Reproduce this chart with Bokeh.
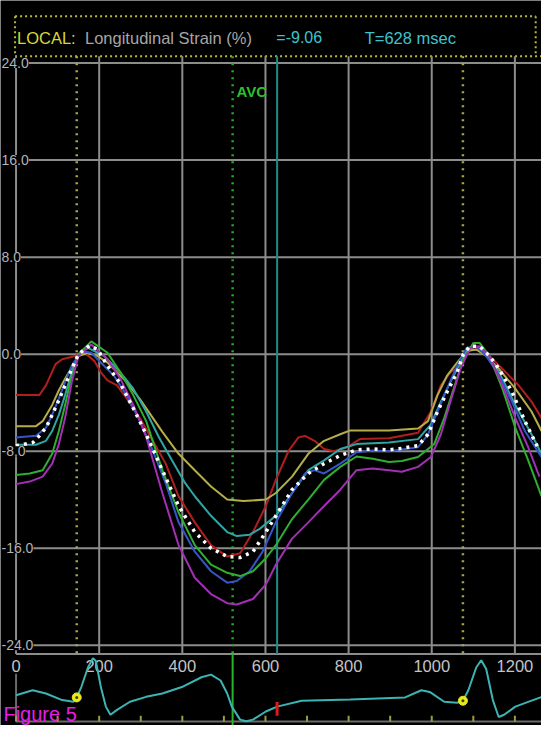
from bokeh.plotting import figure
from bokeh.models import Range1d, Text, Label
from bokeh.core.properties import value
from bokeh.embed import file_html
from bokeh.resources import INLINE

# ---------------- data ----------------
time_ticks = [0, 200, 400, 600, 800, 1000, 1200]
time_labels = ["0", "200", "400", "600", "800", "1000", "1200"]
strain_ticks = [24, 16, 8, 0, -8, -16, -24]
strain_labels = ["24.0", "16.0", "8.0", "0.0", "-8.0", "-16.0", "-24.0"]
ecg_minor_ticks = [0, 100, 200, 300, 400, 500, 600, 700, 800, 900, 1000, 1100, 1200]

ed_times = [146, 1075]          # yellow dotted markers (end-diastole)
avc_time = 521                  # aortic valve closure
cursor_time = 628               # cursor T
local_value = -9.06             # LOCAL longitudinal strain at the cursor

red_t = [0, 56, 72, 95, 111, 142, 165, 188, 204, 220, 243, 266, 298, 329, 360, 391, 430, 469, 508, 539,
         570, 601, 625, 656, 679, 695, 718, 741, 765, 796, 827, 897, 967, 998, 1022, 1045, 1069, 1092,
         1115, 1139, 1178, 1209, 1240, 1264]
red_s = [-3.37, -3.37, -2.57, -0.82, -0.42, -0.15, 0.12, -0.55, -1.49, -2.16, -2.57, -3.64, -5.26, -7.14,
         -9.02, -11.71, -13.86, -15.74, -16.68, -16.41, -14.66, -12.51, -10.36, -7.94, -6.87, -6.73, -7.14,
         -7.81, -8.0, -7.67, -7.0, -6.92, -6.47, -4.72, -2.57, -1.49, -0.95, 0.39, 0.39, -0.15, -1.49, -2.57,
         -3.91, -5.26]

yellow_t = [0, 48, 64, 87, 103, 118, 134, 150, 173, 196, 220, 266, 298, 336, 352, 391, 430, 469, 508, 547,
            601, 625, 664, 703, 741, 780, 804, 897, 967, 991, 1014, 1037, 1061, 1084, 1107, 1131, 1162,
            1201, 1240, 1264]
yellow_s = [-5.93, -5.93, -5.52, -4.18, -2.97, -2.03, -1.09, -0.15, 0.12, -0.15, -0.69, -2.3, -3.7, -5.6,
            -6.4, -8.21, -9.56, -10.9, -11.98, -12.11, -11.98, -11.44, -10.09, -8.21, -7.14, -6.6, -6.28,
            -6.28, -6.12, -5.52, -3.37, -1.76, -0.69, 0.26, 0.39, -0.15, -1.22, -2.84, -4.72, -6.33]

teal_t = [0, 48, 72, 87, 103, 118, 134, 150, 173, 212, 251, 282, 313, 344, 375, 407, 430, 469, 508, 531,
          562, 586, 625, 664, 703, 741, 780, 819, 897, 967, 998, 1022, 1045, 1069, 1084, 1107, 1131, 1162,
          1201, 1240, 1264]
teal_s = [-7.46, -7.46, -7.14, -6.33, -5.0, -3.37, -1.49, -0.01, 0.52, -0.15, -1.49, -2.84, -4.72, -6.87,
          -8.75, -10.63, -11.71, -13.32, -14.66, -14.99, -14.88, -14.4, -13.32, -11.44, -9.56, -8.75, -7.81,
          -7.41, -7.27, -7.0, -5.79, -3.91, -2.3, -0.69, 0.39, 0.66, -0.01, -1.49, -4.18, -6.6, -8.21]

blue_t = [0, 48, 72, 87, 103, 118, 134, 157, 181, 204, 235, 266, 298, 329, 360, 391, 430, 469, 508, 531,
          562, 593, 625, 664, 695, 718, 741, 780, 819, 858, 897, 967, 991, 1014, 1037, 1061, 1084, 1107,
          1131, 1162, 1193, 1224, 1264]
blue_s = [-6.87, -6.73, -6.06, -4.99, -3.64, -2.3, -0.95, 0.26, 0.12, -0.69, -1.76, -3.37, -5.52, -7.94,
          -10.63, -13.86, -16.28, -17.89, -18.83, -18.7, -17.89, -16.28, -13.86, -11.44, -9.83, -9.56, -9.83,
          -9.02, -8.08, -7.94, -8.0, -7.67, -6.6, -4.72, -2.84, -0.95, 0.52, 0.66, -0.15, -1.76, -3.91,
          -6.33, -8.48]

green_t = [0, 33, 64, 87, 103, 118, 134, 150, 181, 220, 251, 282, 313, 352, 391, 430, 469, 508, 539, 570,
           601, 625, 664, 703, 741, 780, 819, 858, 897, 928, 967, 1006, 1030, 1053, 1076, 1100, 1115, 1139,
           1170, 1201, 1232, 1264]
green_s = [-9.96, -9.83, -9.56, -8.21, -6.33, -4.18, -1.76, -0.01, 1.06, 0.12, -1.49, -3.37, -5.52, -9.56,
           -13.05, -15.74, -17.35, -18.02, -18.29, -17.89, -16.82, -15.74, -13.59, -11.98, -10.36, -9.29,
           -8.43, -8.62, -8.89, -8.8, -8.48, -7.41, -5.26, -2.84, -0.42, 0.93, 0.93, -0.15, -2.84, -6.06,
           -8.75, -11.71]

purple_t = [0, 33, 64, 87, 103, 118, 134, 150, 181, 220, 251, 282, 313, 352, 391, 430, 469, 508, 531, 570,
            601, 625, 664, 703, 741, 780, 819, 858, 897, 928, 967, 998, 1022, 1045, 1069, 1092, 1115, 1139,
            1170, 1201, 1232, 1259]
purple_s = [-10.71, -10.5, -10.09, -9.02, -7.41, -5.26, -2.3, -0.15, 0.79, -0.42, -2.03, -4.18, -6.8,
            -11.44, -15.74, -18.43, -19.77, -20.52, -20.63, -20.18, -18.97, -17.35, -15.2, -13.86, -12.51,
            -11.17, -9.56, -9.42, -9.56, -9.69, -9.29, -8.48, -6.6, -3.91, -1.22, 0.52, 0.66, -0.15, -2.57,
            -5.26, -7.67, -10.09]

avg_t = [0, 21, 41, 56, 72, 87, 103, 118, 134, 150, 177, 196, 220, 251, 282, 313, 352, 391, 430, 469, 508,
         539, 570, 601, 625, 664, 703, 741, 780, 819, 858, 897, 928, 967, 991, 1014, 1037, 1061, 1076, 1092,
         1115, 1139, 1162, 1193, 1224, 1255]
avg_s = [-7.54, -7.41, -7.27, -6.73, -6.06, -4.99, -3.78, -2.57, -1.22, -0.01, 0.71, 0.39, -0.95, -2.43,
         -4.45, -6.6, -9.56, -12.51, -14.66, -16.0, -16.68, -16.76, -16.28, -14.66, -13.32, -11.17, -9.83,
         -9.02, -8.35, -7.89, -7.81, -7.89, -7.76, -7.54, -6.6, -4.72, -3.1, -1.49, -0.01, 0.66, 0.66,
         -0.15, -1.22, -3.1, -5.52, -7.67]

ecg_t = [0, 40, 72, 111, 138, 146, 157, 173, 185, 192, 204, 216, 227, 243, 274, 313, 352, 399, 446, 469,
         492, 508, 519, 539, 554, 570, 601, 628, 687, 804, 936, 975, 995, 1030, 1061, 1075, 1088, 1107, 1119,
         1131, 1147, 1161, 1174, 1201, 1255, 1264]
ecg_v = [3.0, 3.5, 3.17, 2.5, 2.33, 2.77, 3.83, 5.83, 6.77, 6.5, 3.83, 1.83, 1.0, 1.5, 2.33, 2.83, 3.17,
         3.83, 4.83, 5.1, 4.5, 3.17, 1.83, 0.5, 0.33, 0.5, 1.33, 1.83, 2.43, 2.57, 2.77, 3.5, 3.33, 2.33,
         2.23, 2.43, 3.5, 5.83, 6.57, 5.67, 2.5, 0.77, 1.0, 1.83, 2.67, 2.8]
ed_ecg_v = [2.77, 2.43]

# ---------------- layout helpers (reference-pixel positions -> data units) ----------------
def tx(px):
    return (px - 16) / 0.428

def sy(py):
    return (361.5 - py) / 12.4

def ey(py):
    return (740 - py) / 10.0

W, H = 541, 725
T_MIN, T_MAX = tx(0), tx(557)

p = figure(width=W, height=H, output_backend="svg", toolbar_location=None,
           x_range=Range1d(T_MIN, T_MAX), y_range=Range1d(sy(741), sy(0)),
           x_axis_location=None, y_axis_location=None,
           background_fill_color="black", border_fill_color="black", outline_line_color=None,
           min_border=0, min_border_left=0, min_border_right=0, min_border_top=0, min_border_bottom=0)
p.grid.visible = False
p.extra_y_ranges = {"ecg": Range1d(ey(741), ey(0))}

FONT = value("Liberation Sans")
GRID = "#8c8c8c"

# ---- header box and text ----
p.multi_line(xs=[[tx(15), tx(551)], [tx(15), tx(15)], [tx(551), tx(551)], [tx(15), tx(557)]],
             ys=[[sy(16), sy(16)], [sy(16), sy(57)], [sy(16), sy(57)], [sy(57), sy(57)]],
             line_color="#b8b840", line_width=2, line_dash="2 3")
p.text(x=[tx(17)], y=[sy(38)], text=["LOCAL:"], text_color="#d8d83c", text_font=FONT,
       text_font_size="16.5px", text_baseline="alphabetic")
p.text(x=[tx(87)], y=[sy(38)], text=["Longitudinal Strain (%)"], text_color="#a6a6a6", text_font=FONT,
       text_font_size="16.5px", text_baseline="alphabetic")
p.text(x=[tx(284)], y=[sy(38)], text=["=%.2f" % local_value], text_color="#3cc4d0", text_font=FONT,
       text_font_size="16px", text_baseline="alphabetic")
p.text(x=[tx(375)], y=[sy(38)], text=["T=%d msec" % cursor_time], text_color="#3cc4d0", text_font=FONT,
       text_font_size="16.5px", text_baseline="alphabetic")

# ---- grid ----
p.segment(x0=[0] * len(strain_ticks), x1=[T_MAX] * len(strain_ticks), y0=strain_ticks, y1=strain_ticks,
          line_color=GRID, line_width=2)
p.segment(x0=time_ticks, x1=time_ticks, y0=[sy(57)] * len(time_ticks), y1=[sy(668)] * len(time_ticks),
          line_color=GRID, line_width=2)
p.segment(x0=[0], x1=[T_MAX], y0=[sy(668)], y1=[sy(668)], line_color=GRID, line_width=2)

# ---- event markers ----
p.segment(x0=ed_times, x1=ed_times, y0=[sy(57)] * 2, y1=[sy(668)] * 2,
          line_color="#a8a848", line_width=2.5, line_dash="2 5")
p.segment(x0=[avc_time], x1=[avc_time], y0=[sy(57)], y1=[sy(668)],
          line_color="#2aa82a", line_width=2.5, line_dash="2 5")
p.segment(x0=[cursor_time], x1=[cursor_time], y0=[sy(57)], y1=[sy(668)],
          line_color="#1e8a8a", line_width=2)
p.text(x=[tx(243)], y=[sy(93)], text=["AVC"], text_color="#2ec02e", text_font=FONT,
       text_font_size="15px", text_font_style="bold", text_baseline="alphabetic")

# ---- strain curves ----
p.line(red_t, red_s, line_color="#b01e1e", line_width=2)
p.line(yellow_t, yellow_s, line_color="#b4ae4a", line_width=2)
p.line(teal_t, teal_s, line_color="#2fa6a6", line_width=2)
p.line(blue_t, blue_s, line_color="#3456c8", line_width=2)
p.line(green_t, green_s, line_color="#2fae2f", line_width=2)
p.line(purple_t, purple_s, line_color="#a22fb4", line_width=2)
p.line(avg_t, avg_s, line_color="white", line_width=3.5, line_dash="3 5")

# ---- y tick labels (kept fully inside the picture, on a black backing) ----
label_kw = {}
if "background_fill_color" in Text.properties():
    label_kw["background_fill_color"] = "black"
p.text(x=[tx(1)] * len(strain_ticks), y=strain_ticks, text=strain_labels, text_color="#b4b4b4",
       text_font=FONT, text_font_size="14px", text_align="left", text_baseline="middle", **label_kw)

# ---- ECG strip ----
p.text(x=time_ticks, y=[ey(680)] * len(time_ticks), text=time_labels, text_color="#c4c4c4",
       text_font=FONT, text_font_size="16.5px", text_align="center", text_baseline="middle",
       y_range_name="ecg")
p.segment(x0=[0], x1=[T_MAX], y0=[ey(737)], y1=[ey(737)], line_color="#6a6a6a", line_width=2,
          y_range_name="ecg")
p.segment(x0=[0], x1=[0], y0=[ey(688)], y1=[ey(737)], line_color="#6a6a6a", line_width=2,
          y_range_name="ecg")
p.segment(x0=ecg_minor_ticks, x1=ecg_minor_ticks, y0=[ey(737)] * len(ecg_minor_ticks),
          y1=[ey(731)] * len(ecg_minor_ticks), line_color="#9c9c3c", line_width=2, y_range_name="ecg")
p.segment(x0=[avc_time], x1=[avc_time], y0=[ey(668)], y1=[ey(741)], line_color="#2ab42a", line_width=2,
          y_range_name="ecg")
p.line(ecg_t, ecg_v, line_color="#3cb4b4", line_width=2, y_range_name="ecg")
p.segment(x0=[cursor_time], x1=[cursor_time], y0=[ey(717)], y1=[ey(731)], line_color="#e01a1a",
          line_width=3, y_range_name="ecg")
p.scatter(ed_times, ed_ecg_v, size=9, fill_color="#e8e820", line_color="#e8e820", y_range_name="ecg")
p.scatter(ed_times, ed_ecg_v, size=3, fill_color="#404000", line_color=None, y_range_name="ecg")
p.add_layout(Label(x=tx(3), y=ey(729), y_range_name="ecg", text="Figure 5", text_color="#e61ee6",
                   text_font="Liberation Sans", text_font_size="20px", text_baseline="alphabetic"))

open("out.html", "w").write(file_html(p, INLINE))
